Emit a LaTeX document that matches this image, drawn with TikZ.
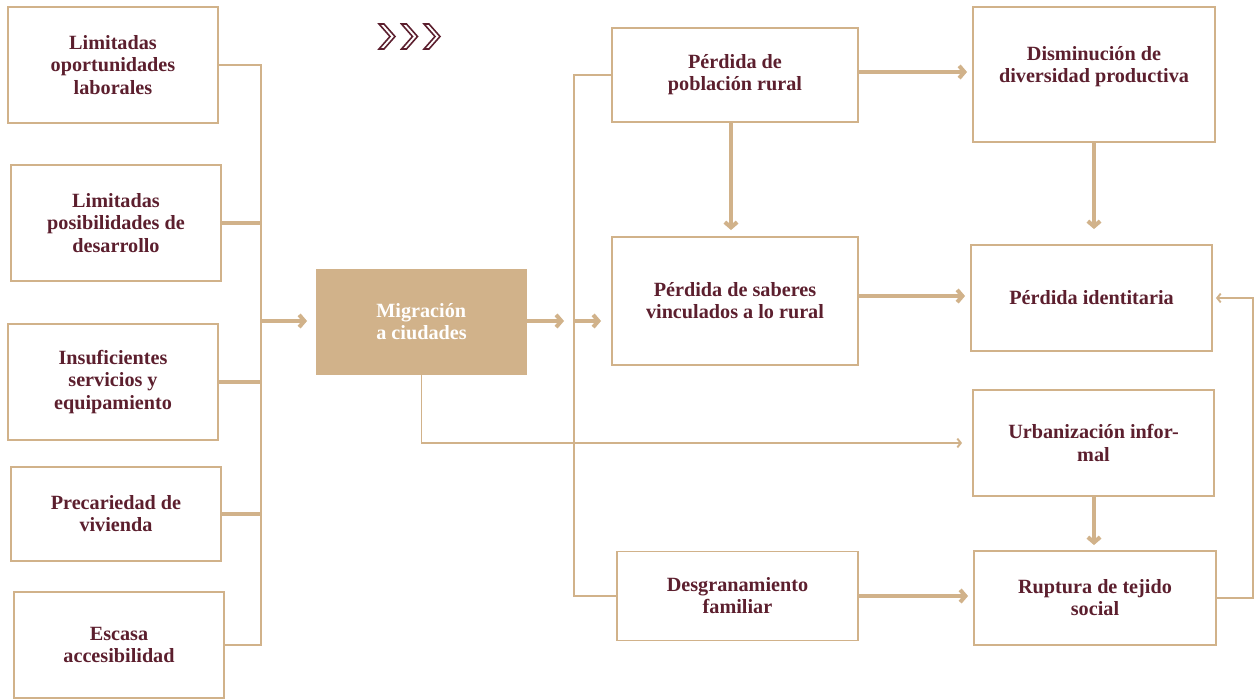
\documentclass[tikz,border=0pt]{standalone}
\usepackage{fontspec}
\setmainfont{Liberation Serif}
\usetikzlibrary{arrows.meta}
\definecolor{arena}{RGB}{209,178,138}
\definecolor{vino}{RGB}{92,31,46}

\begin{document}
\begin{tikzpicture}[x=0.02cm, y=-0.02cm, line join=miter,
    caja/.style={draw=arena, line width=1.1pt, text=vino, align=center, font=\fontsize{11.5}{12.6}\selectfont\bfseries},
    enlace/.style={draw=arena, line width=1.1pt},
    grueso/.style={draw=arena, line width=2.3pt},
    flecha/.style={grueso, -{Straight Barb[length=3pt, width=7pt]}},
    flechita/.style={enlace, -{Straight Barb[length=2pt, width=5pt]}}]
    \useasboundingbox (0,0) rectangle (1258,700);

    % causas
    \node[caja, minimum width=4.2cm, minimum height=2.32cm] (lab) at (113,65) {Limitadas\\oportunidades\\laborales};
    \node[caja, minimum width=4.2cm, minimum height=2.32cm] (des) at (116,223) {Limitadas\\posibilidades de\\desarrollo};
    \node[caja, minimum width=4.2cm, minimum height=2.32cm] (ser) at (113,382) {Insuficientes\\servicios y\\equipamiento};
    \node[caja, minimum width=4.2cm, minimum height=1.88cm] (viv) at (116,514) {Precariedad de\\vivienda};
    \node[caja, minimum width=4.2cm, minimum height=2.12cm] (acc) at (119,645) {Escasa\\accesibilidad};

    \node[caja, fill=arena, text=white, align=left, minimum width=4.18cm, minimum height=2.1cm] (mig) at (421.5,322) {Migración\\a ciudades};

    % efectos
    \node[caja, minimum width=4.92cm, minimum height=1.88cm] (pob) at (735,75) {Pérdida de\\población rural};
    \node[caja, minimum width=4.92cm, minimum height=2.56cm] (sab) at (735,301) {Pérdida de saberes\\vinculados a lo rural};
    \node[caja, minimum width=4.82cm, minimum height=1.78cm] (fam) at (737.5,596) {Desgranamiento\\familiar};
    \node[caja, minimum width=4.84cm, minimum height=2.7cm, text depth=0.4cm] (div) at (1094,74.5) {Disminución de\\diversidad productiva};
    \node[caja, minimum width=4.82cm, minimum height=2.12cm] (ide) at (1091.5,298) {Pérdida identitaria};
    \node[caja, minimum width=4.82cm, minimum height=2.12cm] (urb) at (1093.5,443) {Urbanización infor-\\mal};
    \node[caja, minimum width=4.84cm, minimum height=1.88cm] (tej) at (1095,598) {Ruptura de tejido\\social};

    \coordinate (b1) at (261,321);
    \coordinate (b2) at (574,321);

    % chevrones
    \foreach \i in {0,1,2}
      \draw[vino, line width=0.9pt, shift={(379+22.5*\i,24)}] (0,0) -- (5,0) -- (16,12.5) -- (5,25) -- (0,25) -- (11,12.5) -- cycle;

    % bus izquierdo
    \draw[enlace] (lab.east) -| (b1) |- (acc.east);
    \draw[grueso] (des.east) -- (des.east -| b1);
    \draw[grueso] (ser.east) -- (ser.east -| b1);
    \draw[grueso] (viv.east) -- (viv.east -| b1);
    \draw[flecha, shorten >=0.18cm] (b1) -- (b1 -| mig.west);

    % bus derecho
    \draw[flecha, shorten >=0.2cm] (mig.east |- b1) -- (b2);
    \draw[enlace] (pob.west) -| (b2) |- (fam.west);
    \draw[flecha, shorten >=0.2cm] (b2) -- (b2 -| sab.west);
    \draw[flechita, shorten >=0.2cm] (mig.south) |- (urb.west);

    \draw[flecha, shorten >=0.1cm] (pob.east |- 0,72) -- (div.west |- 0,72);
    \draw[flecha, shorten >=0.12cm] (pob.south -| 731,0) -- (sab.north -| 731,0);
    \draw[flecha, shorten >=0.3cm] (div.south) -- (div.south |- ide.north);
    \draw[flecha, shorten >=0.1cm] (sab.east |- 0,296) -- (ide.west |- 0,296);
    \draw[flecha, shorten >=0.1cm] (urb.south -| 1094,0) -- (tej.north -| 1094,0);
    \draw[flecha, shorten >=0.1cm] (fam.east) -- (fam.east -| tej.west);
    \draw[flechita, shorten >=0.06cm] (tej.east) -- ++(36,0) |- (ide.east);
\end{tikzpicture}
\end{document}
